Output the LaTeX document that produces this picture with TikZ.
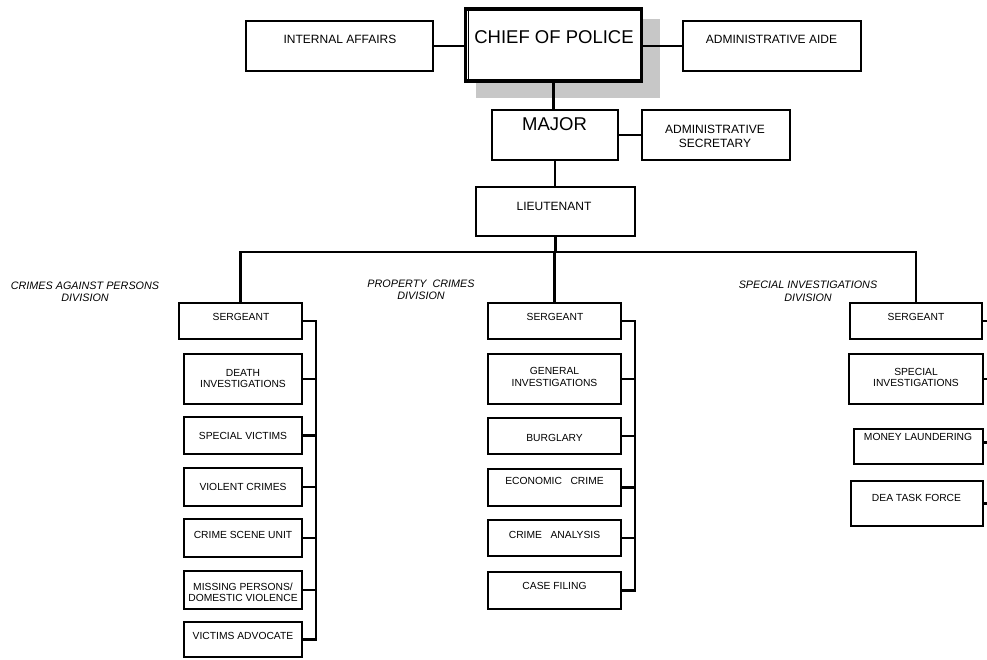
\documentclass[tikz,border=0pt]{standalone}
\usepackage{fontspec}
\setmainfont{Liberation Sans}
\newcommand\obox[5]{\node[box, minimum width={(#4-#2-1.8)*1pt}, minimum height={(#5-#3-1.8)*1pt}] (#1) at ({(#2+#4)/2},{(#3+#5)/2}) {};}
\begin{document}
\begin{tikzpicture}[x=1pt,y=-1pt,
  box/.style={draw, line width=2pt, inner sep=0pt, fill=white},
  lbl/.style={inner sep=0pt, align=center, text=black},
  conn/.style={line width=2.2pt},
  bigt/.style={lbl, font=\fontsize{12}{14}\selectfont},
  smt/.style={lbl, font=\fontsize{10.3}{11.5}\selectfont},
  hugt/.style={lbl, font=\fontsize{18.5}{20}\selectfont},
  divt/.style={lbl, font=\fontsize{10.8}{12.5}\selectfont\itshape}]
\useasboundingbox (0,0) rectangle (987,660);
% shadow and chief
\fill[black!22] (476,19) rectangle (660,98);
\node[draw, line width=3.8pt, fill=white, inner sep=0pt, minimum width=176pt, minimum height=72pt] (chief) at (553.5,45) {};
\draw[line width=0.7pt] ([xshift=4.8pt,yshift=-2pt]chief.north west) -- ([xshift=4.8pt,yshift=2pt]chief.south west);
% top boxes
\obox{ia}{245}{20}{434}{72}
\obox{aide}{682}{20}{862}{72}
\obox{major}{491}{109}{619}{161}
\obox{sec}{641}{109}{791}{161}
\obox{lt}{475}{186}{636}{237}
% left column
\obox{sgL}{178}{302}{303}{340}
\obox{di}{183}{353}{303}{405}
\obox{sv}{183}{416}{303}{455}
\obox{vc}{183}{467}{303}{507}
\obox{cs}{183}{518}{303}{558}
\obox{mp}{183}{570}{303}{610}
\obox{va}{183}{621}{303}{658}
% middle column
\obox{sgM}{487}{302}{622}{340}
\obox{gi}{487}{353}{622}{405}
\obox{bu}{487}{417}{622}{455}
\obox{ec}{487}{468}{622}{507}
\obox{ca}{487}{519}{622}{557}
\obox{cf}{487}{571}{622}{610}
% right column
\obox{sgR}{849}{302}{983}{340}
\obox{si}{848}{353}{984}{405}
\obox{ml}{853}{428}{984}{465}
\obox{dea}{850}{480}{984}{527}
% texts
\node[hugt] (tchief) at (554,37) {CHIEF OF POLICE};
\node[bigt] (tia) at (340,39) {INTERNAL AFFAIRS};
\node[bigt] (taide) at (771.5,39) {ADMINISTRATIVE AIDE};
\node[hugt] (tmajor) at (554.5,124) {MAJOR};
\node[bigt] (tsec) at (715,136) {ADMINISTRATIVE\\SECRETARY};
\node[bigt] (tlt) at (554,206) {LIEUTENANT};
\node[divt] (dcap) at (85,292) {CRIMES AGAINST PERSONS\\DIVISION};
\node[divt] (dpc) at (421,290) {PROPERTY\ \ CRIMES\\DIVISION};
\node[divt] (dsi) at (808,291.5) {SPECIAL INVESTIGATIONS\\DIVISION};
\node[smt] (tsgL) at (241,317) {SERGEANT};
\node[smt] (tdi) at (243,378.5) {DEATH\\INVESTIGATIONS};
\node[smt] (tsv) at (243,436) {SPECIAL VICTIMS};
\node[smt] (tvc) at (243,487) {VIOLENT CRIMES};
\node[smt] (tcs) at (243,535) {CRIME SCENE UNIT};
\node[smt] (tmp) at (243,592.5) {MISSING PERSONS/\\DOMESTIC VIOLENCE};
\node[smt] (tva) at (243,636) {VICTIMS ADVOCATE};
\node[smt] (tsgM) at (555,317) {SERGEANT};
\node[smt] (tgi) at (554.5,377) {GENERAL\\INVESTIGATIONS};
\node[smt] (tbu) at (554.5,438) {BURGLARY};
\node[smt] (tec) at (554.5,481) {ECONOMIC\ \ \ CRIME};
\node[smt] (tca) at (554.5,535) {CRIME\ \ \ ANALYSIS};
\node[smt] (tcf) at (554.5,586) {CASE FILING};
\node[smt] (tsgR) at (916,317) {SERGEANT};
\node[smt] (tsi) at (916,377.5) {SPECIAL\\INVESTIGATIONS};
\node[smt] (tml) at (918,437) {MONEY LAUNDERING};
\node[smt] (tdea) at (916.5,498) {DEA TASK FORCE};
% connectors
\draw[conn] (ia.east) -- (ia.east -| chief.west);
\draw[conn] (chief.east |- aide.west) -- (aide.west);
\draw[conn] (chief.south) -- (chief.south |- major.north);
\draw[conn] (major.east) -- (sec.west);
\draw[conn] (major.south) -- (major.south |- lt.north);
\coordinate (bus) at (555,252);
\draw[conn] (lt.south) -- (lt.south |- bus);
\draw[conn] (sgL.north) -- (sgL.north |- bus) -- (sgR.north |- bus) -- (sgR.north);
\draw[conn] (bus -| sgM.north) -- (sgM.north);
\coordinate (bL) at (316,321);
\coordinate (bM) at (635,321);
\coordinate (bR) at (987,321);
\draw[conn] (sgL.east) -- (sgL.east -| bL) -- (va.east -| bL) -- (va.east);
\foreach \n in {di,sv,vc,cs,mp} \draw[conn] (\n.east) -- (\n.east -| bL);
\draw[conn] (sgM.east) -- (sgM.east -| bM) -- (cf.east -| bM) -- (cf.east);
\foreach \n in {gi,bu,ec,ca} \draw[conn] (\n.east) -- (\n.east -| bM);
\foreach \n in {sgR,si,dea} \draw[conn] (\n.east) -- (\n.east -| bR);
\draw[conn] ([yshift=4pt]ml.east) -- ([yshift=4pt]ml.east -| bR);
\end{tikzpicture}
\end{document}
